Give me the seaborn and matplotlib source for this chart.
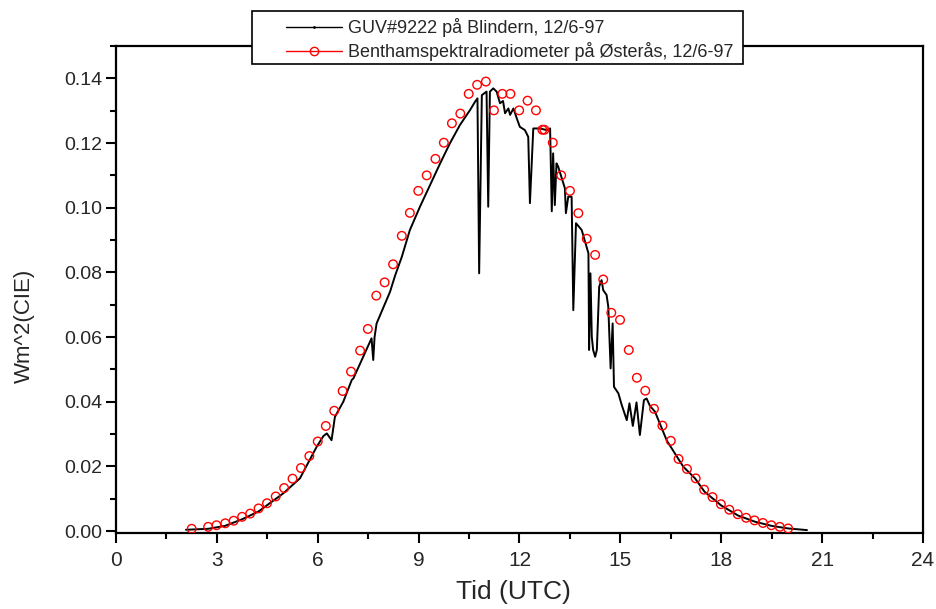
import matplotlib
matplotlib.use('Agg')
import matplotlib.pyplot as plt
import seaborn as sns
import pandas as pd
from matplotlib.lines import Line2D
from matplotlib.patches import Rectangle
from matplotlib.ticker import MultipleLocator, FormatStrFormatter

sns.set_theme(style='white')
plt.rcParams['font.family'] = ['Liberation Sans', 'DejaVu Sans']

# GUV#9222, Blindern (hours UTC, W/m2 CIE)
guv_time = [2.08, 2.74, 3.24, 3.74, 4.23, 4.73, 4.98, 5.47, 5.97, 6.17, 6.27, 6.41,
            6.51, 6.76, 7.01, 7.06, 7.60, 7.65, 7.69, 7.75, 8.15, 8.30, 8.50, 8.74,
            9.04, 9.34, 9.64, 9.93, 10.23, 10.53, 10.68, 10.75, 10.80, 10.88, 11.02,
            11.07, 11.12, 11.22, 11.32, 11.42, 11.51, 11.57, 11.67, 11.72, 11.82,
            11.92, 12.01, 12.16, 12.26, 12.31, 12.41, 12.61, 12.81, 12.91, 12.96,
            13.00, 13.05, 13.10, 13.15, 13.35, 13.38, 13.45, 13.55, 13.60, 13.68,
            13.85, 14.05, 14.07, 14.11, 14.15, 14.19, 14.25, 14.30, 14.37, 14.44,
            14.49, 14.59, 14.64, 14.71, 14.77, 14.81, 14.94, 15.04, 15.19, 15.27,
            15.37, 15.48, 15.58, 15.70, 15.78, 15.88, 16.03, 16.38, 16.87, 17.22,
            17.50, 18.00, 18.50, 19.00, 19.50, 20.00, 20.55]
guv_wm2 = [0.0004, 0.0007, 0.0016, 0.0036, 0.0060, 0.0098, 0.0117, 0.0163, 0.0261,
           0.0294, 0.0302, 0.0281, 0.0353, 0.0400, 0.0467, 0.0472, 0.0596, 0.0529,
           0.0600, 0.0642, 0.0740, 0.0790, 0.0848, 0.0931, 0.1003, 0.1070, 0.1137,
           0.1199, 0.1256, 0.1302, 0.1328, 0.1338, 0.0797, 0.1348, 0.1359, 0.1003,
           0.1359, 0.1369, 0.1359, 0.1323, 0.1330, 0.1292, 0.1307, 0.1287, 0.1307,
           0.1276, 0.1250, 0.1240, 0.1219, 0.1014, 0.1245, 0.1245, 0.1240, 0.1245,
           0.0989, 0.1168, 0.1008, 0.1137, 0.1127, 0.1060, 0.0983, 0.1034, 0.1034,
           0.0683, 0.0952, 0.0931, 0.0859, 0.0560, 0.0797, 0.0601, 0.0560, 0.0539,
           0.0560, 0.0756, 0.0776, 0.0745, 0.0730, 0.0694, 0.0503, 0.0642, 0.0446,
           0.0426, 0.0390, 0.0343, 0.0395, 0.0325, 0.0398, 0.0297, 0.0405, 0.0410,
           0.0387, 0.0369, 0.0280, 0.0199, 0.0163, 0.0122, 0.0079, 0.0048, 0.0029,
           0.0016, 0.0008, 0.0003]

# Bentham spectroradiometer, Østerås
bentham_time = [2.25, 2.74, 2.99, 3.25, 3.50, 3.75, 3.99, 4.24, 4.49, 4.75, 5.00, 5.25,
                5.50, 5.75, 6.00, 6.24, 6.49, 6.74, 6.99, 7.26, 7.49, 7.74, 7.99, 8.24,
                8.50, 8.74, 8.99, 9.24, 9.50, 9.75, 9.99, 10.24, 10.49, 10.74, 11.00,
                11.24, 11.49, 11.73, 11.99, 12.24, 12.49, 12.68, 12.74, 12.99, 13.24,
                13.50, 13.75, 14.00, 14.25, 14.49, 14.73, 14.99, 15.25, 15.49, 15.74,
                16.00, 16.25, 16.50, 16.73, 16.98, 17.24, 17.49, 17.74, 17.99, 18.24,
                18.49, 18.74, 18.99, 19.24, 19.49, 19.74, 19.99]
bentham_wm2 = [0.0007, 0.0013, 0.0018, 0.0024, 0.0032, 0.0044, 0.0054, 0.0070, 0.0086,
               0.0107, 0.0133, 0.0162, 0.0195, 0.0232, 0.0277, 0.0325, 0.0372, 0.0433,
               0.0493, 0.0558, 0.0625, 0.0728, 0.0769, 0.0825, 0.0913, 0.0984, 0.1052,
               0.1100, 0.1151, 0.1201, 0.1261, 0.1291, 0.1352, 0.1380, 0.1390, 0.1301,
               0.1352, 0.1352, 0.1301, 0.1331, 0.1301, 0.1241, 0.1241, 0.1201, 0.1100,
               0.1052, 0.0983, 0.0904, 0.0854, 0.0778, 0.0675, 0.0653, 0.0560, 0.0474,
               0.0434, 0.0378, 0.0326, 0.0279, 0.0223, 0.0192, 0.0163, 0.0128, 0.0105,
               0.0083, 0.0066, 0.0052, 0.0041, 0.0033, 0.0025, 0.0018, 0.0013, 0.0008]

guv_label = 'GUV#9222 på Blindern, 12/6-97'
bentham_label = 'Benthamspektralradiometer på Østerås, 12/6-97'

guv = pd.DataFrame({'tid': guv_time, 'wm2': guv_wm2})
bentham = pd.DataFrame({'tid': bentham_time, 'wm2': bentham_wm2})

fig = plt.figure(figsize=(9.37, 6.09), dpi=100)
ax = fig.add_axes([116 / 937, 1 - 533 / 609, 807 / 937, 487 / 609])

sns.lineplot(data=guv, x='tid', y='wm2', estimator=None, sort=False,
             color='black', linewidth=1.4, ax=ax)
sns.scatterplot(data=bentham, x='tid', y='wm2', marker='o', s=38,
                facecolor='none', edgecolor='red', linewidth=1.0, ax=ax, zorder=3)

ax.set_xlim(0, 24)
ax.set_ylim(-0.0006, 0.150)
ax.xaxis.set_major_locator(MultipleLocator(3))
ax.xaxis.set_minor_locator(MultipleLocator(1.5))
ax.yaxis.set_major_locator(MultipleLocator(0.02))
ax.yaxis.set_minor_locator(MultipleLocator(0.01))
ax.yaxis.set_major_formatter(FormatStrFormatter('%.2f'))
ax.xaxis.set_major_formatter(FormatStrFormatter('%d'))

for s in ax.spines.values():
    s.set_visible(True)
    s.set_color('black')
    s.set_linewidth(1.6)
ax.tick_params(axis='both', which='major', direction='out', length=7, width=1.5,
               color='black', bottom=True, left=True, top=False, right=False)
ax.tick_params(axis='both', which='minor', direction='out', length=4, width=1.5,
               color='black', bottom=True, left=True, top=False, right=False)
ax.tick_params(axis='y', labelsize=14, pad=3)
ax.tick_params(axis='x', labelsize=15, pad=6)
ax.grid(False)

ax.set_xlabel('Tid (UTC)', fontsize=19)
ax.set_ylabel('Wm^2(CIE)', fontsize=16)
ax.xaxis.set_label_coords(0.493, -0.097)
ax.yaxis.set_label_coords(-0.10, 0.425)

# legend box sitting over the top border
fig.patches.append(Rectangle((252 / 937, 1 - 64 / 609), 491 / 937, 53 / 609,
                             transform=fig.transFigure, facecolor='white',
                             edgecolor='black', linewidth=1.2, zorder=5))
handles = [Line2D([], [], color='black', linewidth=1.0, marker='.', markersize=2),
           Line2D([], [], color='red', linewidth=1.0, marker='o', markersize=6,
                  markerfacecolor='none', markeredgecolor='red')]
leg = fig.legend(handles, [guv_label, bentham_label], loc='upper left',
                 bbox_to_anchor=(286 / 937, 1 - 18 / 609), frameon=False,
                 fontsize=13, handlelength=3.1, handletextpad=0.35,
                 labelspacing=0.3, borderpad=0.0, borderaxespad=0.0)
leg.set_zorder(6)

fig.savefig('out.png', dpi=100)
